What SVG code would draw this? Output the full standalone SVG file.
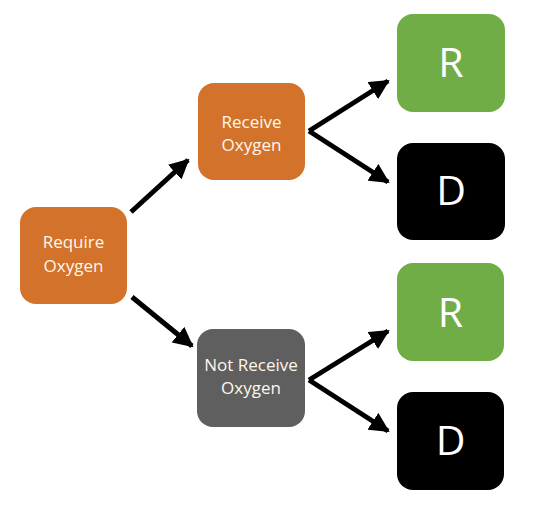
<svg xmlns="http://www.w3.org/2000/svg" width="535" height="514" viewBox="0 0 535 514">
<style>
.or{fill:#d2722b}
.gr{fill:#5f5f5f}
.gn{fill:#70ad47}
.bk{fill:#000}
.t{font-family:"Open Sans","Noto Sans",sans-serif;font-size:17px;fill:#fff7ea;text-anchor:middle}
.big{font-family:"Open Sans","Noto Sans",sans-serif;font-size:41px;fill:#fff;text-anchor:middle}
.c{stroke:#000;stroke-width:5;fill:none}
</style>
<defs>
<marker id="ah" viewBox="0 0 10 10" refX="9" refY="5" markerWidth="4" markerHeight="4" markerUnits="strokeWidth" orient="auto">
<path d="M0,0 L10,5 L0,10 z" fill="#000"/>
</marker>
</defs>
<rect width="535" height="514" fill="#fff"/>
<g id="connectors">
<line class="c" x1="131" y1="212" x2="188" y2="160" marker-end="url(#ah)"/>
<line class="c" x1="132" y1="297" x2="192" y2="346" marker-end="url(#ah)"/>
<line class="c" x1="309" y1="131" x2="388" y2="81" marker-end="url(#ah)"/>
<line class="c" x1="309" y1="131" x2="388" y2="182" marker-end="url(#ah)"/>
<line class="c" x1="309" y1="380" x2="388" y2="331" marker-end="url(#ah)"/>
<line class="c" x1="309" y1="380" x2="388" y2="431" marker-end="url(#ah)"/>
</g>
<g id="require">
<rect class="or" x="20" y="207" width="107" height="97" rx="16"/>
<text class="t" x="73.5" y="248">Require</text>
<text class="t" x="73.5" y="272">Oxygen</text>
</g>
<g id="receive">
<rect class="or" x="198" y="83" width="107" height="97" rx="16"/>
<text class="t" x="251.5" y="128">Receive</text>
<text class="t" x="251.5" y="151">Oxygen</text>
</g>
<g id="notreceive">
<rect class="gr" x="197" y="329" width="108" height="98" rx="16"/>
<text class="t" x="251" y="371">Not Receive</text>
<text class="t" x="251" y="394">Oxygen</text>
</g>
<g id="r1">
<rect class="gn" x="397" y="14" width="108" height="98" rx="16"/>
<text class="big" x="451" y="77">R</text>
</g>
<g id="d1">
<rect class="bk" x="397" y="143" width="108" height="97" rx="16"/>
<text class="big" x="451" y="205">D</text>
</g>
<g id="r2">
<rect class="gn" x="397" y="263" width="107" height="98" rx="16"/>
<text class="big" x="450.5" y="327">R</text>
</g>
<g id="d2">
<rect class="bk" x="397" y="392" width="107" height="98" rx="16"/>
<text class="big" x="450.5" y="455">D</text>
</g>
</svg>
